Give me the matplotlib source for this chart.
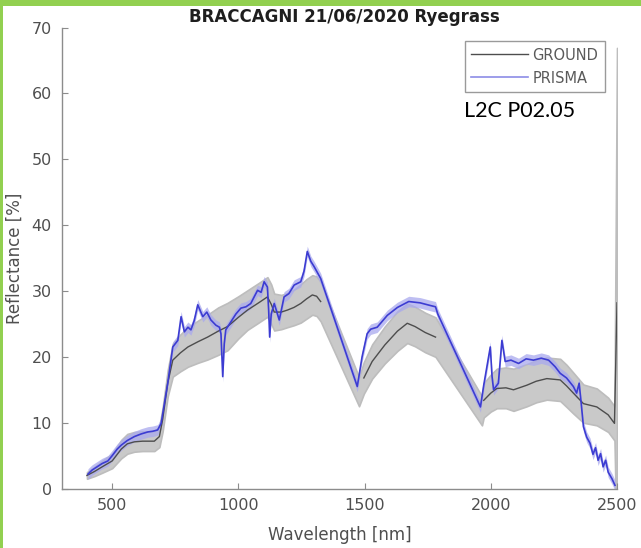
import numpy as np
import matplotlib
matplotlib.use("Agg")
import matplotlib.pyplot as plt
from matplotlib.patches import Rectangle
from matplotlib.lines import Line2D

plt.rcParams["font.family"] = ["DejaVu Sans"]

# ---- Ground measurements (mean and standard deviation, % reflectance) ----
ground_wl = [400, 430, 460, 500, 536, 560, 588, 620, 667, 687, 700, 720, 740, 770,
             800, 840, 878, 920, 957, 1000, 1036, 1080, 1115, 1130, 1142, 1170, 1194,
             1220, 1247, 1270, 1293, 1310, 1326, 1478, 1497, 1530, 1580, 1630, 1669,
             1700, 1740, 1781, 1965, 1972, 2000, 2024, 2060, 2090, 2143, 2180, 2222,
             2275, 2300, 2327, 2367, 2420, 2465, 2490, 2500]
ground_mean = [2.0, 2.6, 3.3, 4.2, 6.0, 6.8, 7.1, 7.2, 7.2, 7.9, 10.5, 16.0, 19.5, 20.6,
               21.5, 22.3, 23.0, 23.9, 24.6, 26.0, 27.1, 28.2, 29.1, 28.0, 26.8, 26.8, 27.1,
               27.5, 28.1, 28.8, 29.4, 29.2, 28.4, 14.7, 16.8, 19.3, 21.8, 23.9, 25.1,
               24.6, 23.7, 23.0, 11.8, 13.4, 14.5, 15.2, 15.3, 15.0, 15.7, 16.3, 16.7,
               16.5, 15.6, 14.5, 12.9, 12.4, 11.2, 9.9, 28.2]
ground_sd = [0.5, 0.7, 0.9, 1.1, 1.4, 1.5, 1.5, 1.5, 1.5, 1.6, 1.8, 2.0, 2.5, 2.8,
             3.0, 3.2, 3.4, 3.6, 3.6, 3.2, 3.0, 3.0, 3.0, 3.0, 2.8, 2.6, 2.6,
             2.7, 2.9, 3.0, 3.0, 3.0, 3.0, 2.2, 2.4, 2.6, 2.8, 3.0, 3.0,
             3.0, 3.0, 3.0, 2.2, 2.6, 2.8, 3.0, 3.1, 3.2, 3.2, 3.2, 3.2,
             3.2, 3.2, 3.1, 2.9, 2.8, 2.6, 2.6, 38.7]
# spectral ranges where the ground mean curve is drawn (water bands removed)
ground_line_spans = [(400, 1326), (1497, 1781), (1972, 2500)]

# ---- PRISMA L2C reflectance (% reflectance) ----
prisma_wl = [404, 420, 440, 460, 483, 500, 520, 536, 560, 588, 615, 641, 660, 680, 694,
             705, 720, 740, 760, 773, 786, 800, 812, 825, 839, 859, 875, 891, 911, 925,
             931, 938, 944, 950, 970, 990, 1010, 1030, 1049, 1076, 1090, 1102, 1115, 1120,
             1124, 1130, 1142, 1162, 1181, 1200, 1221, 1247, 1260, 1273, 1287, 1300, 1326,
             1471, 1490, 1510, 1524, 1550, 1590, 1630, 1675, 1720, 1760, 1781, 1790, 1959,
             1972, 1998, 2005, 2011, 2030, 2044, 2057, 2080, 2110, 2140, 2169, 2200, 2229,
             2255, 2275, 2300, 2327, 2340, 2350, 2358, 2367, 2380, 2393, 2405, 2415, 2425,
             2435, 2445, 2455, 2465, 2480, 2492]
prisma_mean = [2.2, 2.8, 3.3, 3.8, 4.2, 5.0, 6.0, 6.6, 7.3, 7.9, 8.3, 8.6, 8.7, 8.9, 9.9,
               12.5, 16.0, 21.5, 22.5, 26.1, 23.8, 24.5, 24.1, 25.5, 27.9, 26.1, 26.8, 25.6,
               24.8, 24.5, 23.5, 17.0, 22.0, 24.1, 25.3, 26.5, 27.4, 27.6, 28.1, 30.1, 29.8,
               31.4, 30.6, 27.0, 23.0, 26.5, 28.1, 25.6, 29.1, 29.6, 30.9, 31.4, 33.0, 36.0,
               34.5, 33.7, 31.9, 15.5, 20.0, 23.5, 24.2, 24.5, 26.3, 27.5, 28.4, 28.2, 27.8,
               27.6, 26.5, 12.4, 15.7, 21.5, 17.0, 15.0, 16.0, 22.5, 19.3, 19.5, 19.0, 19.7,
               19.5, 19.8, 19.5, 18.5, 17.5, 16.8, 15.5, 14.5, 16.0, 13.0, 9.4, 7.8, 6.9,
               5.2, 6.2, 4.3, 5.3, 3.3, 4.3, 2.5, 1.5, 0.5]
prisma_sd = 0.8

x_ticks = [500, 1000, 1500, 2000, 2500]
y_ticks = [0, 10, 20, 30, 40, 50, 60, 70]

W, H = 641, 548
fig = plt.figure(figsize=(W / 100, H / 100), dpi=100)
fig.patch.set_facecolor("white")

left, right, top, bottom = 61.7, 617.0, 27.5, 488.6
ax = fig.add_axes([left / W, 1 - bottom / H, (right - left) / W, (bottom - top) / H])

gw = np.array(ground_wl, float)
gm = np.array(ground_mean, float)
gs = np.array(ground_sd, float)
pw = np.array(prisma_wl, float)
pm = np.array(prisma_mean, float)

# ground spread (outlined so the narrow last-band spike stays visible)
ax.fill_between(gw, gm - gs, gm + gs, facecolor="#c9c9c9", edgecolor="#bdbdbd",
                lw=1.2, zorder=1)
# PRISMA spread
ax.fill_between(pw, pm - prisma_sd, pm + prisma_sd, color="#a9a9ee", alpha=0.75,
                lw=0, zorder=2)
# ground mean curve, drawn per valid span
for a, b in ground_line_spans:
    m = (gw >= a) & (gw <= b)
    ax.plot(gw[m], gm[m], color="#4d4d4d", lw=1.0, zorder=3)
ax.plot(pw, pm, color="#3c3cd2", lw=1.2, zorder=4)

ax.set_xlim(300, 2500)
ax.set_ylim(0, 70)
ax.set_xticks(x_ticks)
ax.set_yticks(y_ticks)
for s in ["top", "right"]:
    ax.spines[s].set_visible(False)
for s in ["left", "bottom"]:
    ax.spines[s].set_color("#8c8c8c")
    ax.spines[s].set_linewidth(1.0)
ax.tick_params(direction="in", length=4, color="#8c8c8c", labelcolor="#4f4f4f",
               labelsize=11.5, pad=7)

ax.set_xlabel("Wavelength [nm]", fontsize=12, color="#4f4f4f", va="center")
ax.xaxis.set_label_coords(0.5, (bottom - 535) / (bottom - top))
ax.set_ylabel("Reflectance [%]", fontsize=12, color="#4f4f4f", va="center")
ax.yaxis.set_label_coords((15 - left) / (right - left), 0.5)

handles = [Line2D([], [], color="#4d4d4d", lw=1.0),
           Line2D([], [], color="#8c8ce6", lw=1.2)]
leg = ax.legend(handles, ["GROUND", "PRISMA"], loc="upper right",
                bbox_to_anchor=((605 - left) / (right - left), (bottom - 41) / (bottom - top)),
                borderaxespad=0, fontsize=10.5, handlelength=3.9, handletextpad=0.3,
                labelspacing=0.55, borderpad=0.45, fancybox=False, framealpha=1)
leg.get_frame().set_edgecolor("#9a9a9a")
leg.get_frame().set_linewidth(1.0)
for t in leg.get_texts():
    t.set_color("#5a5a5a")

fig.text(344 / W, 1 - 17 / H, "BRACCAGNI 21/06/2020 Ryegrass", ha="center",
         va="center", fontsize=12, fontweight="bold", color="#1e1e1e")
fig.text(520 / W, 1 - 111 / H, "L2C P02.05", ha="center", va="center",
         fontsize=15.5, color="black", family=["Lato", "DejaVu Sans"])

# green frame along the top and left edges
fig.add_artist(Rectangle((0, 1 - 6 / H), 1, 6 / H, transform=fig.transFigure,
                         color="#92d050", lw=0, zorder=10))
fig.add_artist(Rectangle((0, 0), 3 / W, 1, transform=fig.transFigure,
                         color="#92d050", lw=0, zorder=10))

fig.savefig("out.png", dpi=100)
